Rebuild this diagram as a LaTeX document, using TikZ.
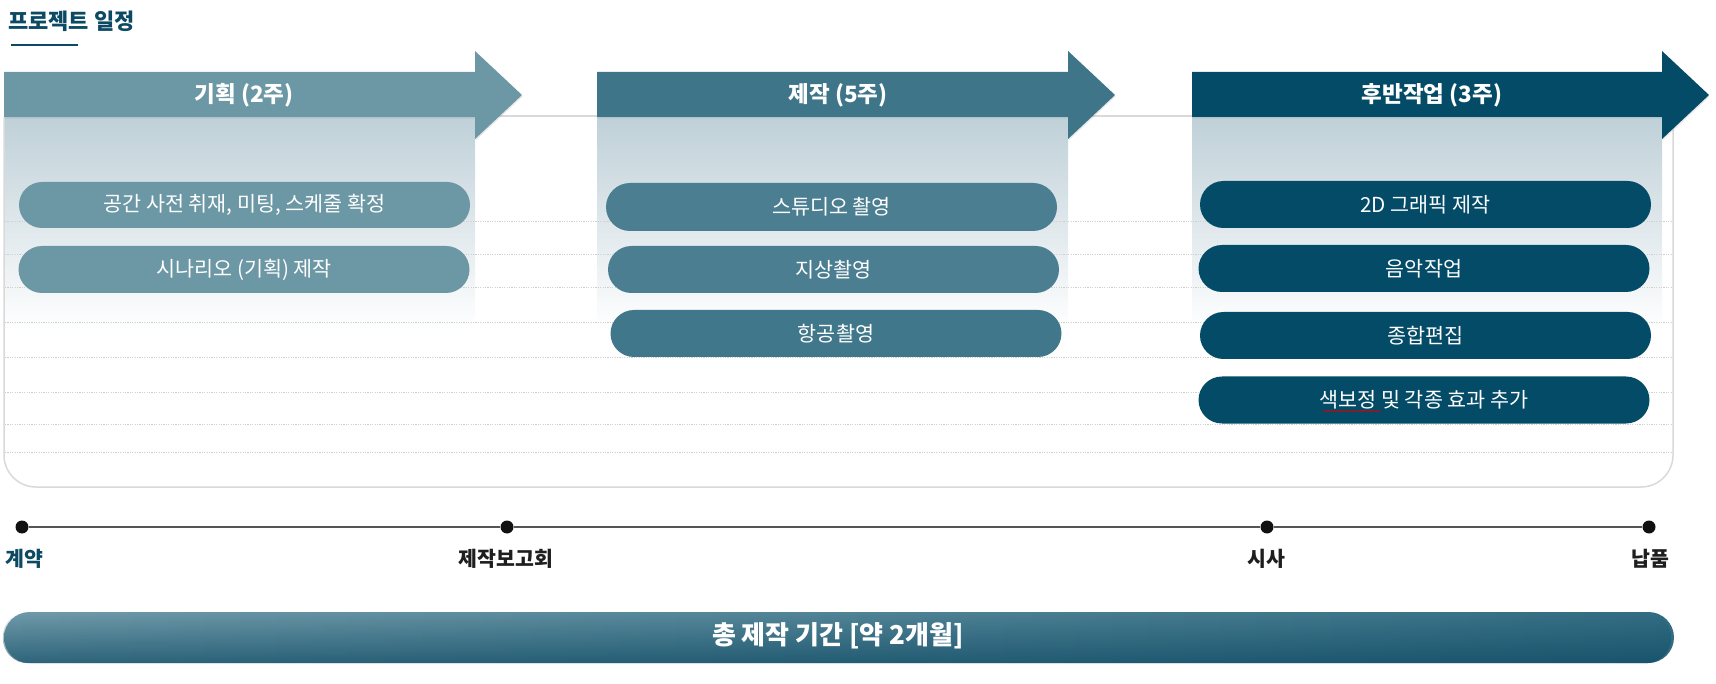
\documentclass[tikz,border=0pt]{standalone}
\usepackage{fontspec}
\setmainfont{Noto Sans CJK KR}
\usetikzlibrary{shapes.misc,shadows,fadings,decorations.pathmorphing}
\definecolor{cA}{HTML}{6C97A5}
\definecolor{cB}{HTML}{3E7589}
\definecolor{cBp}{HTML}{4A7E90}
\definecolor{cBq}{HTML}{40778A}
\definecolor{cC}{HTML}{034B66}
\definecolor{ttl}{HTML}{0C4A63}
\definecolor{gridc}{HTML}{CFCFCF}
\definecolor{panelc}{HTML}{D9D9D9}
\definecolor{gradc}{HTML}{BFD0D8}
\definecolor{dotc}{HTML}{111111}
\definecolor{linec}{HTML}{555555}
\definecolor{labc}{HTML}{1E1E1E}
\definecolor{barL}{HTML}{709BAA}
\definecolor{barR}{HTML}{336D83}
\definecolor{barD}{HTML}{0A4660}
\begin{document}
\begin{tikzpicture}[x=1pt,y=-1pt,
  pill/.style={rounded rectangle, minimum width=451pt, minimum height=47pt, inner sep=0pt, text=white, font=\fontsize{20.7pt}{24pt}\selectfont},
  headtxt/.style={text=white, font=\bfseries\fontsize{22.5pt}{26pt}\selectfont, inner sep=0pt},
  mile/.style={circle, fill=dotc, minimum size=13pt, inner sep=0pt},
  milelab/.style={font=\bfseries\fontsize{20.5pt}{24pt}\selectfont, text=labc, inner sep=0pt},
  gridline/.style={gridc, line width=0.9pt, dash pattern=on 1.2pt off 1.2pt},
  fadebox/.style={top color=gradc, bottom color=white},
  arrowshadow/.style={drop shadow={opacity=0.18, shadow xshift=0.6pt, shadow yshift=-1.5pt}},
]
\useasboundingbox (0,0) rectangle (1716,684);

% title
\node[anchor=west, font=\bfseries\fontsize{22pt}{26pt}\selectfont, text=ttl, inner sep=0pt] (title) at (8,21) {프로젝트 일정};
\draw[ttl, line width=1.3pt] (11,45) -- (78,45);

% panel top line
\draw[panelc, line width=1.5pt] (4,116) -- (1673,116);

% gradients under headers
\fill[fadebox] (4,117) rectangle (475,330);
\fill[fadebox] (597,117) rectangle (1068,330);
\fill[fadebox] (1192,117) rectangle (1662,330);

% dotted grid
\foreach \yy in {221,254,287,322,357,392,424,452}
  \draw[gridline] (5,\yy) -- (1672,\yy);

% panel border
\draw[panelc, line width=1.5pt, rounded corners=32pt] (4,117) -- (4,487) -- (1673,487) -- (1673,117);

% header arrows
\fill[cA, arrowshadow] (4,72) -- (475,72) -- (475,51) -- (522,95) -- (475,139) -- (475,117) -- (4,117) -- cycle;
\fill[cB, arrowshadow] (597,72) -- (1068,72) -- (1068,51) -- (1115,95) -- (1068,139) -- (1068,117) -- (597,117) -- cycle;
\fill[cC, arrowshadow] (1192,72) -- (1662,72) -- (1662,51) -- (1709,95) -- (1662,139) -- (1662,117) -- (1192,117) -- cycle;
\node[headtxt] (h1) at (244,95) {기획 (2주)};
\node[headtxt] (h2) at (838,95) {제작 (5주)};
\node[headtxt] (h3) at (1432,95) {후반작업 (3주)};

% pills
\node[pill, fill=cA, minimum height=46pt] (a1) at (244.5,205) {공간 사전 취재, 미팅, 스케줄 확정};
\node[pill, fill=cA] (a2) at (244,269.5) {시나리오 (기획) 제작};
\node[pill, fill=cBp, minimum height=48pt] (b1) at (831.5,207) {스튜디오 촬영};
\node[pill, fill=cBp] (b2) at (833.5,269.5) {지상촬영};
\node[pill, fill=cBq] (b3) at (836,333.5) {항공촬영};
\node[pill, fill=cC] (c1) at (1425.5,204.5) {2D 그래픽 제작};
\node[pill, fill=cC] (c2) at (1424,268.5) {음악작업};
\node[pill, fill=cC] (c3) at (1425.5,335.5) {종합편집};
\node[pill, fill=cC] (c4) at (1424,400) {색보정 및 각종 효과 추가};
\draw[red!85!black, line width=0.6pt, decorate, decoration={snake, amplitude=0.7pt, segment length=2.6pt}] (1323,411) -- (1381,411);

% timeline
\node[mile] (d1) at (22,527) {};
\node[mile] (d2) at (507,527) {};
\node[mile] (d3) at (1267,527) {};
\node[mile] (d4) at (1649,527) {};
\draw[linec, line width=2.5pt] (d1) -- (d2) -- (d3) -- (d4);
\node[milelab, text=ttl] (l1) at (24,559) {계약};
\node[milelab] (l2) at (506,559) {제작보고회};
\node[milelab] (l3) at (1266,559) {시사};
\node[milelab] (l4) at (1650,559) {납품};

% total bar
\node[rounded rectangle, minimum width=1670pt, minimum height=51pt, inner sep=0pt, left color=barL, right color=barR] (bar) at (839,637.5) {};
\fill[barD, path fading=north, fill opacity=0.65, rounded corners=25pt] (bar.west |- bar.north) rectangle (bar.east |- bar.south);
\node[text=white, font=\bfseries\fontsize{26pt}{30pt}\selectfont, inner sep=0pt] (bartxt) at (838,636) {총 제작 기간 [약 2개월]};
\end{tikzpicture}
\end{document}
